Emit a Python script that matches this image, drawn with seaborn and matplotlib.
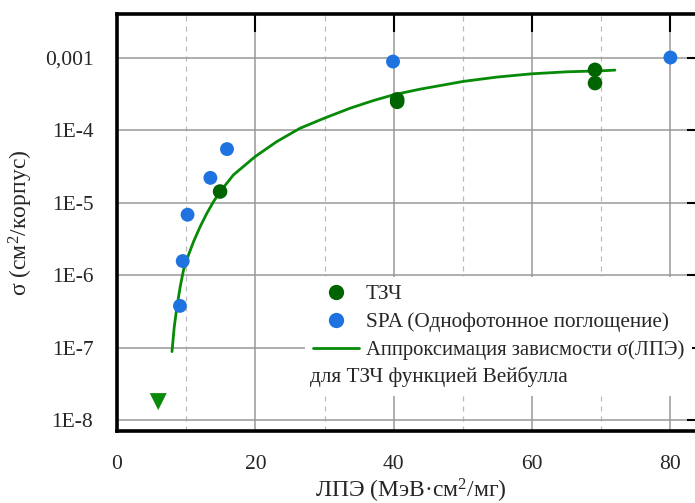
import numpy as np
import pandas as pd
import matplotlib
matplotlib.use("Agg")
import matplotlib.pyplot as plt
from matplotlib.lines import Line2D
import seaborn as sns

# ТЗЧ (heavy ions)
hi_let = [14.9, 40.5, 40.5, 69.1, 69.1]
hi_sigma = [1.42e-5, 2.45e-4, 2.65e-4, 6.76e-4, 4.44e-4]

# SPA (single photon absorption)
spa_let = [9.1, 9.5, 10.2, 13.5, 15.9, 39.9, 80.0]
spa_sigma = [3.76e-7, 1.56e-6, 6.8e-6, 2.19e-5, 5.46e-5, 8.8e-4, 1.0e-3]

# Weibull approximation
fit_let = [7.95, 8.28, 8.67, 9.14, 9.62, 10.34, 11.07, 12.03, 13.0, 13.95, 14.92,
           16.84, 19.98, 23.11, 26.48, 29.99, 33.7, 37.07, 39.96, 43.81, 48.15,
           49.98, 54.89, 59.95, 65.0, 70.06, 71.98]
fit_sigma = [8.81e-8, 1.95e-7, 3.68e-7, 6.94e-7, 1.18e-6, 1.9e-6, 2.9e-6, 4.67e-6,
             7.14e-6, 1.03e-5, 1.42e-5, 2.41e-5, 4.31e-5, 6.94e-5, 1.06e-4, 1.46e-4,
             2.0e-4, 2.55e-4, 3.06e-4, 3.66e-4, 4.34e-4, 4.67e-4, 5.37e-4, 5.96e-4,
             6.35e-4, 6.56e-4, 6.7e-4]

# upper limit marker
lim_let = [5.96]
lim_sigma = [1.8e-8]

yticks = [1e-8, 1e-7, 1e-6, 1e-5, 1e-4, 1e-3]
ytick_labels = ["1E-8", "1E-7", "1E-6", "1E-5", "1E-4", "0,001"]
xticks = [0, 20, 40, 60, 80]

sns.set_style("white")
plt.rcParams["font.family"] = ["Liberation Serif", "DejaVu Serif"]
plt.rcParams["mathtext.fontset"] = "custom"
plt.rcParams["mathtext.rm"] = "Liberation Serif"
plt.rcParams["mathtext.it"] = "Liberation Serif:italic"

fig = plt.figure(figsize=(6.95, 5.03), dpi=100)
ax = fig.add_axes([117 / 695, 72 / 503, 588 / 695, 417 / 503])

hi_color = "#006400"
spa_color = "#1f73e0"
fit_color = "#078a07"

sns.lineplot(x=fit_let, y=fit_sigma, ax=ax, color=fit_color, linewidth=2, zorder=3, sort=False)
sns.scatterplot(x=hi_let, y=hi_sigma, ax=ax, color=hi_color, s=110, edgecolor="none", zorder=4)
sns.scatterplot(x=spa_let, y=spa_sigma, ax=ax, color=spa_color, s=100, edgecolor="none", zorder=4)
sns.scatterplot(x=lim_let, y=lim_sigma, ax=ax, color="#0a8a0a", marker="v", s=150,
                edgecolor="none", zorder=4)

ax.set_yscale("log")
ax.set_xlim(0, 85)
ax.set_ylim(10 ** -8.15, 10 ** -2.4)
ax.set_yticks(yticks)
ax.set_yticklabels(ytick_labels)
ax.yaxis.set_minor_locator(matplotlib.ticker.NullLocator())
ax.set_xticks(xticks)
ax.set_xticks([10, 30, 50, 70], minor=True)

ax.grid(True, which="major", color="#999999", linewidth=1.1, linestyle="-")
ax.grid(True, which="minor", axis="x", color="#bbbbbb", linewidth=0.9, linestyle=(0, (4, 4)))
ax.set_axisbelow(True)

ax.tick_params(axis="both", which="major", direction="in", length=13, width=1.5,
               top=True, right=True, labelsize=15.5, pad=17, color="black")
ax.tick_params(axis="x", which="minor", length=0)
for sp in ax.spines.values():
    sp.set_linewidth(2.6)
    sp.set_color("black")

ax.set_xlabel("ЛПЭ (МэВ·см$^2$/мг)", fontsize=17, labelpad=2)
ax.set_ylabel("σ (см$^2$/корпус)", fontsize=17)
ax.yaxis.set_label_coords(-0.1395, 0.5)

handles = [
    Line2D([], [], marker="o", linestyle="none", color=hi_color, markersize=10),
    Line2D([], [], marker="o", linestyle="none", color=spa_color, markersize=10),
    Line2D([], [], color=fit_color, linewidth=2),
    Line2D([], [], alpha=0),
]
labels = ["ТЗЧ", "SPA (Однофотонное поглощение)", "Аппроксимация зависмости σ(ЛПЭ)", " "]
leg = ax.legend(handles, labels, loc="upper left", bbox_to_anchor=(0.32, 0.369),
                borderaxespad=0, borderpad=0.35, frameon=True, fancybox=False,
                framealpha=1, edgecolor="none", facecolor="white", fontsize=15.3,
                handlelength=2.2, handletextpad=0.3, labelspacing=0.38)
leg.set_zorder(5)
leg.get_texts()[2].set_fontsize(14.9)
ax.text(0.328, 0.1295, "для ТЗЧ функцией Вейбулла", transform=ax.transAxes,
        fontsize=15.3, va="center", ha="left", zorder=6)

fig.savefig("out.png", dpi=100)
